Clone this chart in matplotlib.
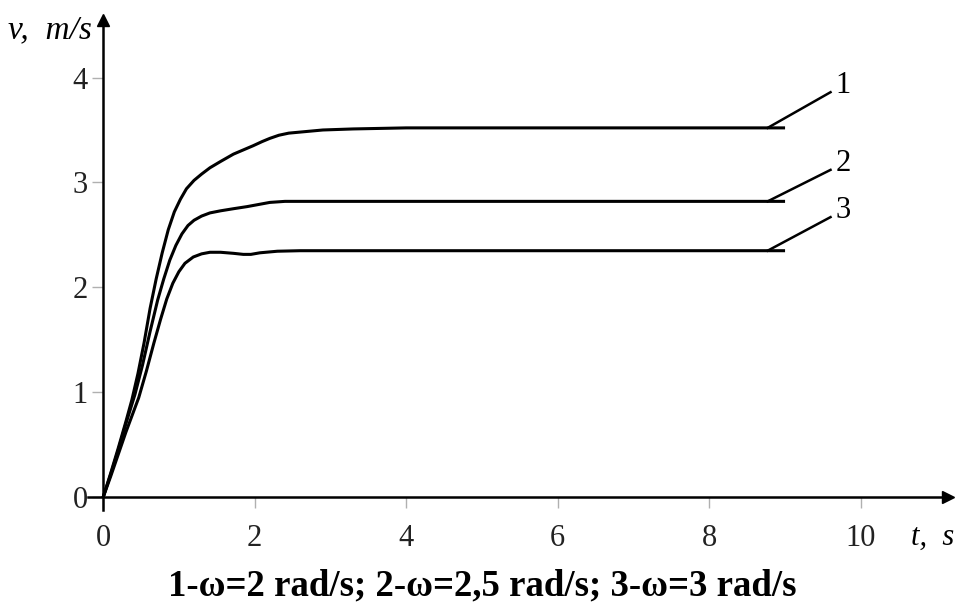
import numpy as np
import matplotlib.pyplot as plt

plt.rcParams['font.family'] = ['Liberation Serif', 'DejaVu Serif']

# velocity curves v(t) for three angular speeds
t1 = [0, 0.1, 0.2, 0.3, 0.38, 0.46, 0.54, 0.62, 0.7, 0.78, 0.86, 0.94, 1.02, 1.1, 1.2, 1.3,
      1.41, 1.55, 1.72, 1.85, 1.98, 2.1, 2.2, 2.32, 2.45, 2.6, 2.9, 3.3, 4.0, 9.0]
v1 = [0, 0.23, 0.47, 0.72, 0.93, 1.18, 1.47, 1.8, 2.08, 2.33, 2.55, 2.72, 2.84, 2.94, 3.02, 3.08,
      3.14, 3.2, 3.27, 3.31, 3.35, 3.39, 3.42, 3.45, 3.47, 3.48, 3.5, 3.51, 3.52, 3.52]

t2 = [0, 0.1, 0.2, 0.3, 0.42, 0.52, 0.62, 0.72, 0.8, 0.88, 0.96, 1.04, 1.12, 1.2, 1.3,
      1.41, 1.55, 1.72, 1.9, 2.05, 2.2, 2.4, 3.0, 9.0]
v2 = [0, 0.22, 0.45, 0.7, 0.98, 1.26, 1.58, 1.88, 2.08, 2.26, 2.4, 2.51, 2.59, 2.64, 2.68,
      2.71, 2.73, 2.75, 2.77, 2.79, 2.81, 2.82, 2.82, 2.82]

t3 = [0, 0.1, 0.2, 0.3, 0.47, 0.57, 0.67, 0.76, 0.84, 0.92, 1.0, 1.08, 1.19, 1.3, 1.41,
      1.55, 1.72, 1.85, 1.95, 2.07, 2.3, 2.6, 9.0]
v3 = [0, 0.2, 0.41, 0.62, 0.95, 1.2, 1.47, 1.7, 1.89, 2.04, 2.15, 2.23, 2.29, 2.32, 2.335,
      2.335, 2.325, 2.315, 2.315, 2.33, 2.345, 2.35, 2.35]

curve_names = ['1', '2', '3']
xticks = [0, 2, 4, 6, 8, 10]
yticks = [0, 1, 2, 3, 4]
caption = '1-ω=2 rad/s; 2-ω=2,5 rad/s; 3-ω=3 rad/s'

xmin, xmax = -0.2, 11.15
ymin, ymax = -0.12, 4.55

fig = plt.figure(figsize=(9.56, 6.12), dpi=100)
ax = fig.add_axes([0.092, 0.1667, 0.8996, 0.801])

for t, v in [(t1, v1), (t2, v2), (t3, v3)]:
    ax.plot(t, v, color='black', lw=2.2, solid_capstyle='butt', solid_joinstyle='round')

# leader lines to the curve numbers
for t, v, name, dy in [(t1, v1, curve_names[0], 0.34), (t2, v2, curve_names[1], 0.30), (t3, v3, curve_names[2], 0.32)]:
    x0 = t[-1] - 0.23
    y0 = v[-1]
    ax.plot([x0, x0 + 0.83], [y0, y0 + dy], color='black', lw=1.8)
    ax.text(x0 + 1.0, y0 + dy + 0.06, name, fontsize=22, ha='center', va='center')

ax.set_xlim(xmin, xmax)
ax.set_ylim(ymin, ymax)

for s in ['top', 'right']:
    ax.spines[s].set_visible(False)
ax.spines['bottom'].set_position(('data', 0))
ax.spines['left'].set_position(('data', 0))
ax.spines['bottom'].set_linewidth(1.8)
ax.spines['left'].set_linewidth(1.8)

# arrow heads
ax.plot(xmax, 0, marker='>', color='black', ms=9, clip_on=False)
ax.plot(0, ymax, marker='^', color='black', ms=9, clip_on=False)

ax.set_xticks(xticks)
ax.set_yticks(yticks)
ax.tick_params(axis='both', length=8, width=1, color='#b0b0b0', labelsize=22, labelcolor='#222222')
ax.tick_params(axis='x', pad=11)
ax.tick_params(axis='y', pad=3)

fig.text(0.008, 0.951, 'v,  m/s', fontsize=24, style='italic', ha='left', va='center')
fig.text(0.953, 0.122, 't,  s', fontsize=22, style='italic', ha='left', va='center')
fig.text(0.504, 0.043, caption, fontsize=26.5, fontweight='bold', ha='center', va='center')

fig.savefig('out.png', dpi=100)
